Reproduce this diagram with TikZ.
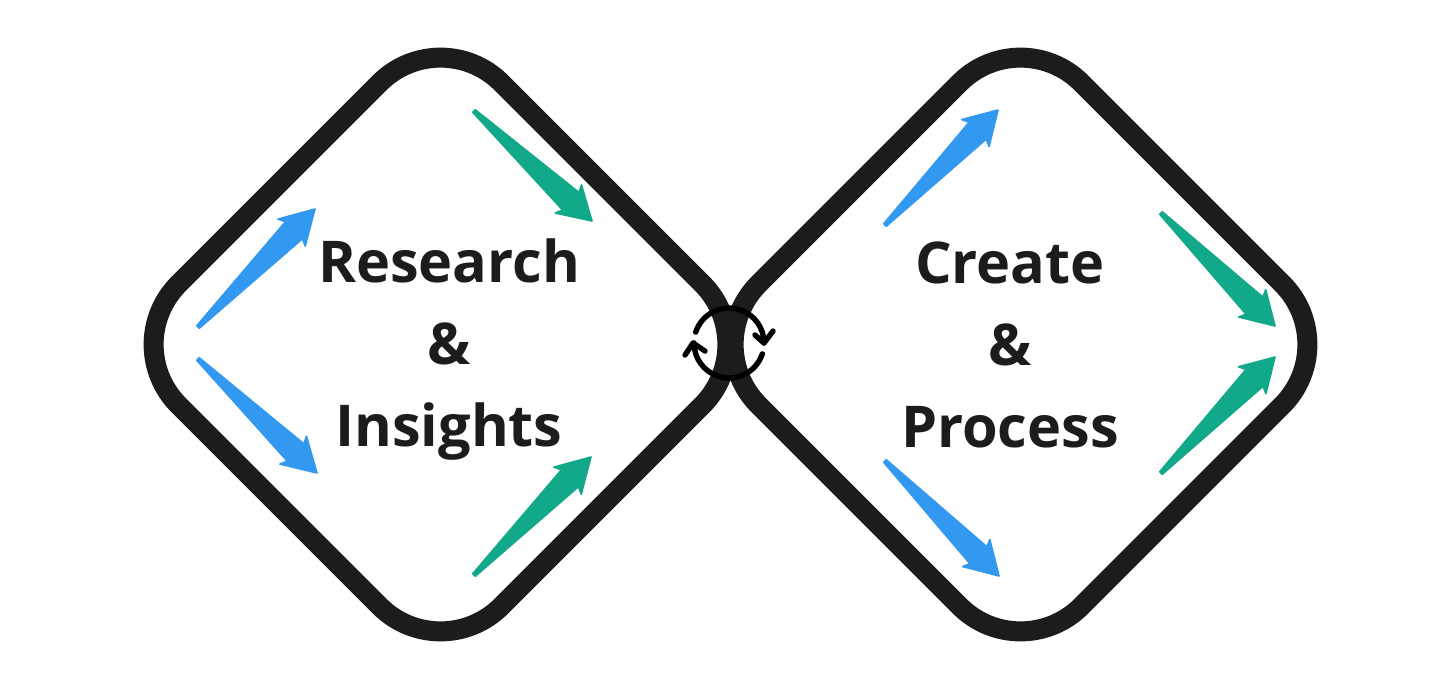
\documentclass[tikz,border=0pt]{standalone}
\usepackage{fontspec}
\setmainfont{Open Sans}
\usetikzlibrary{calc}
\definecolor{ink}{HTML}{1C1C1C}
\definecolor{bluearrow}{HTML}{3399F0}
\definecolor{greenarrow}{HTML}{12A88A}
\tikzset{
  loop/.style={draw=ink,line width=10pt,line join=round,rounded corners=43pt},
  title/.style={text=ink,font=\fontsize{28.8}{41}\selectfont\bfseries,align=center,inner sep=0pt},
  cyc/.style={draw=black,line width=2.7pt,line cap=round,line join=round},
  arrowshape/.style={line width=0.8pt,line join=round}
}
\newcommand{\slimarrow}[4]{%
  \coordinate (#1t) at #3;
  \coordinate (#1h) at #4;
  \filldraw[arrowshape,draw=#2,fill=#2]
    ($(#1t)!0.9pt!90:(#1h)$) --
    ($(#1t)!0.82!(#1h)!6pt!90:(#1h)$) --
    ($(#1t)!0.80!(#1h)!9.6pt!90:(#1h)$) --
    (#1h) --
    ($(#1t)!0.80!(#1h)!9.6pt!-90:(#1h)$) --
    ($(#1t)!0.82!(#1h)!6pt!-90:(#1h)$) --
    ($(#1t)!0.9pt!-90:(#1h)$) -- cycle;
}
\begin{document}
\begin{tikzpicture}[x=0.5pt,y=-0.5pt]
\useasboundingbox[fill=white] (0,0) rectangle (1454,687);
\draw[loop] (440.5,22) -- (763,344.5) -- (440.5,667) -- (118,344.5) -- cycle;
\draw[loop] (1020.5,22) -- (1343,344.5) -- (1020.5,667) -- (698,344.5) -- cycle;
\slimarrow{a}{bluearrow}{(198,327)}{(315,209)}
\slimarrow{b}{bluearrow}{(198,359)}{(317,473)}
\slimarrow{c}{greenarrow}{(474,111)}{(592,221)}
\slimarrow{d}{greenarrow}{(474,575)}{(591,457)}
\slimarrow{e}{bluearrow}{(885,225)}{(998,110)}
\slimarrow{f}{bluearrow}{(885,461)}{(999,576)}
\slimarrow{g}{greenarrow}{(1161,213)}{(1275,326)}
\slimarrow{h}{greenarrow}{(1161,473)}{(1275,357)}
\node[title] (left) at (449,350) {Research\\\&\\Insights};
\node[title] (right) at (1010,345) {Create\\\&\\Process};
\coordinate (cy) at (729,343);
\draw[cyc] ($(cy)+(162:17.5pt)$) arc[start angle=162,end angle=0,radius=17.5pt];
\draw[cyc] ($(cy)+(-18:17.5pt)$) arc[start angle=-18,end angle=-180,radius=17.5pt];
\coordinate (cta) at (764,343);
\coordinate (ctb) at (693,343);
\draw[cyc] (755,335) -- (cta) -- (773,331);
\draw[cyc] (685,355) -- (ctb) -- (705,351);
\end{tikzpicture}
\end{document}
